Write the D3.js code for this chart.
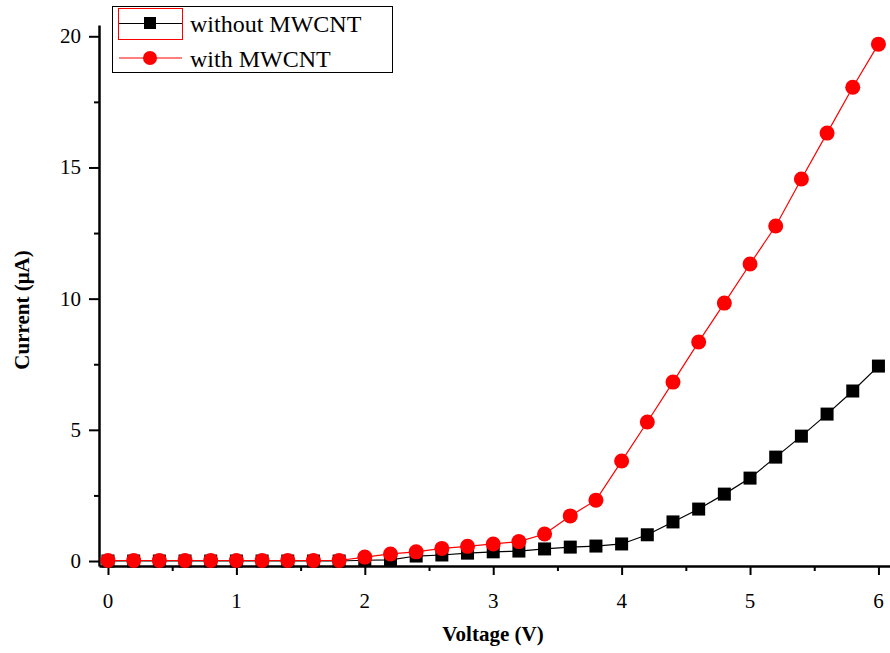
<!DOCTYPE html>
<html>
<head>
<meta charset="utf-8">
<script src="https://cdn.jsdelivr.net/npm/d3@7"></script>
<style>
  body { margin: 0; background: #fff; }
  svg { display: block; }
</style>
</head>
<body>
<div id="chart"></div>
<script>
// voltage steps (V)
var voltage = [0, 0.2, 0.4, 0.6, 0.8, 1.0, 1.2, 1.4, 1.6, 1.8, 2.0,
               2.2, 2.4, 2.6, 2.8, 3.0, 3.2, 3.4, 3.6, 3.8, 4.0,
               4.2, 4.4, 4.6, 4.8, 5.0, 5.2, 5.4, 5.6, 5.8, 6.0]
// current (uA)
var withoutMWCNT = [0, 0, 0, 0, 0, 0, 0, 0, 0, 0, 0.03,
                    0.04, 0.19, 0.23, 0.3, 0.35, 0.38, 0.46, 0.53, 0.57, 0.65,
                    1.0, 1.49, 1.98, 2.55, 3.16, 3.96, 4.76, 5.6, 6.48, 7.43]
var withMWCNT = [0.02, 0.02, 0.02, 0.02, 0.02, 0.02, 0.02, 0.02, 0.02, 0.02, 0.15,
                 0.27, 0.35, 0.48, 0.56, 0.65, 0.74, 1.03, 1.72, 2.32, 3.81,
                 5.3, 6.82, 8.35, 9.83, 11.32, 12.77, 14.56, 16.31, 18.06, 19.7]
var xTicks = [0, 1, 2, 3, 4, 5, 6]
var yTicks = [0, 5, 10, 15, 20]
var seriesNames = ["without MWCNT", "with MWCNT"]

var width = 890, height = 653
var serif = '"Liberation Serif", "Times New Roman", "DejaVu Serif", serif'

var svg = d3.select('#chart').append('svg')
  .attr('width', width)
  .attr('height', height)
  .style('font-family', serif)

var x = d3.scaleLinear().domain([-0.07, 6.09]).range([99, 890])
var y = d3.scaleLinear().domain([-0.19, 20.43]).range([566, 25])

// axes
var xAxis = d3.axisBottom(x)
  .tickValues(d3.range(0, 6.01, 0.5))
  .tickSizeInner(0).tickSizeOuter(0)
  .tickFormat('')
var gx = svg.append('g').attr('transform', 'translate(0,566)').call(xAxis)
gx.select('.domain').attr('stroke', '#000').attr('stroke-width', 2.5)
gx.selectAll('.tick line')
  .attr('stroke', '#000').attr('stroke-width', 2)
  .attr('y2', function(d){ return (d % 1 === 0) ? 9 : 5 })
svg.append('g').selectAll('text')
  .data(xTicks).enter().append('text')
  .attr('x', function(d){ return x(d) })
  .attr('y', 608)
  .attr('text-anchor', 'middle')
  .attr('font-size', 21)
  .style('font-family', serif)
  .text(function(d){ return d })

var yAxis = d3.axisLeft(y)
  .tickValues(d3.range(0, 20.01, 2.5))
  .tickSizeInner(0).tickSizeOuter(0)
  .tickFormat('')
var gy = svg.append('g').attr('transform', 'translate(99,0)').call(yAxis)
gy.select('.domain').attr('stroke', '#000').attr('stroke-width', 2.5)
gy.selectAll('.tick line')
  .attr('stroke', '#000').attr('stroke-width', 2)
  .attr('x2', function(d){ return (d % 5 === 0) ? -10 : -5 })
svg.append('g').selectAll('text')
  .data(yTicks).enter().append('text')
  .attr('x', 81)
  .attr('y', function(d){ return y(d) + 7 })
  .attr('text-anchor', 'end')
  .attr('font-size', 21)
  .style('font-family', serif)
  .text(function(d){ return d })

// axis titles
svg.append('text')
  .attr('x', 493).attr('y', 641)
  .attr('text-anchor', 'middle')
  .attr('font-size', 21).attr('font-weight', 'bold')
  .style('font-family', serif)
  .text('Voltage (V)')
svg.append('text')
  .attr('transform', 'translate(29,310) rotate(-90)')
  .attr('text-anchor', 'middle')
  .attr('font-size', 21).attr('font-weight', 'bold')
  .style('font-family', serif)
  .text('Current (\u03bcA)')

// series
var line = d3.line()
  .x(function(d){ return x(d[0]) })
  .y(function(d){ return y(d[1]) })

var blackPts = voltage.map(function(v, i){ return [v, withoutMWCNT[i]] })
var redPts = voltage.map(function(v, i){ return [v, withMWCNT[i]] })

svg.append('path').datum(blackPts)
  .attr('d', line).attr('fill', 'none')
  .attr('stroke', '#000').attr('stroke-width', 1.2)
svg.append('g').selectAll('rect')
  .data(blackPts).enter().append('rect')
  .attr('x', function(d){ return x(d[0]) - 6.5 })
  .attr('y', function(d){ return y(d[1]) - 6.5 })
  .attr('width', 13).attr('height', 13)
  .attr('fill', '#000')

svg.append('path').datum(redPts)
  .attr('d', line).attr('fill', 'none')
  .attr('stroke', '#ff0000').attr('stroke-width', 1.2)
svg.append('g').selectAll('circle')
  .data(redPts).enter().append('circle')
  .attr('cx', function(d){ return x(d[0]) })
  .attr('cy', function(d){ return y(d[1]) })
  .attr('r', 7.5)
  .attr('fill', '#ff0000')

// legend
var lg = svg.append('g')
lg.append('rect')
  .attr('x', 112.5).attr('y', 6.5)
  .attr('width', 280).attr('height', 66)
  .attr('fill', '#fff').attr('stroke', '#000').attr('stroke-width', 1)
lg.append('rect')
  .attr('x', 118.5).attr('y', 8.5)
  .attr('width', 64).attr('height', 31)
  .attr('fill', 'none').attr('stroke', '#ff0000').attr('stroke-width', 1)

lg.append('line')
  .attr('x1', 119).attr('x2', 182).attr('y1', 23.5).attr('y2', 23.5)
  .attr('stroke', '#000').attr('stroke-width', 1.2)
lg.append('rect')
  .attr('x', 144).attr('y', 17).attr('width', 12).attr('height', 12)
  .attr('fill', '#000')
lg.append('line')
  .attr('x1', 119).attr('x2', 182).attr('y1', 58).attr('y2', 58)
  .attr('stroke', '#ff0000').attr('stroke-width', 1.2)
lg.append('circle')
  .attr('cx', 150).attr('cy', 58).attr('r', 7)
  .attr('fill', '#ff0000')

lg.selectAll('text.name')
  .data(seriesNames).enter().append('text')
  .attr('class', 'name')
  .attr('x', 190)
  .attr('y', function(d, i){ return 32 + i * 35 })
  .attr('font-size', 24)
  .style('font-family', serif)
  .text(function(d){ return d })
</script>
</body>
</html>
